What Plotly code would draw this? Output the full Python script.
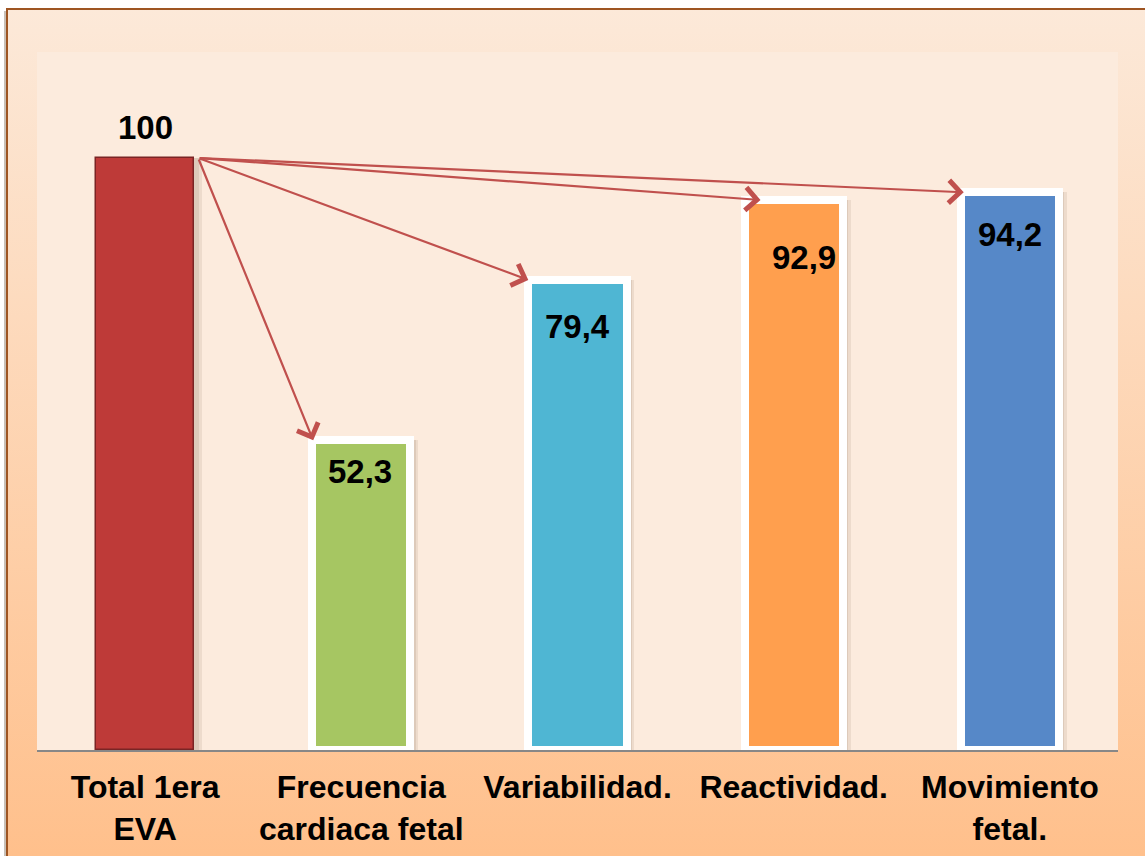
import base64
import plotly.graph_objects as go

# Data
categories = ["Total 1era<br>EVA", "Frecuencia<br>cardiaca fetal", "Variabilidad.",
              "Reactividad.", "Movimiento<br>fetal."]
values = [100, 52.3, 79.4, 92.9, 94.2]
value_labels = ["100", "52,3", "79,4", "92,9", "94,2"]

# Styling
bar_colors = ["#BE3A38", "#A6C662", "#4FB6D3", "#FF9F4E", "#5688C8"]
edge_colors = ["#7A2424", "white", "white", "white", "white"]
edge_widths = [1.5, 8, 8, 8, 8]
label_dx = [0, -0.007, 0, 0.046, 0]          # horizontal nudges (category units)
label_dy = [30, -31, -47, -57, -42]          # vertical offsets from bar top (px)
arrow_tip_dx = [0.005, 0.0, 0.074, 0.014]    # tips relative to each bar's left edge

W, H = 1145, 856
L, R, T, B = 37, 27, 52, 106
BAR_W = 0.455
x_pos = list(range(len(categories)))
FONT = "Arial, Liberation Sans"

# Background: peach gradient panel with brown frame and a light plot area
svg = f"""<svg xmlns='http://www.w3.org/2000/svg' width='{W}' height='{H}' viewBox='0 0 {W} {H}' preserveAspectRatio='none'>
<defs><linearGradient id='g' x1='0' y1='0' x2='0' y2='1'>
<stop offset='0' stop-color='#FCE9D9'/><stop offset='1' stop-color='#FFBF8A'/></linearGradient></defs>
<rect x='0' y='0' width='{W}' height='{H}' fill='white'/>
<rect x='4' y='11' width='{W}' height='{H}' fill='#C8C0B8'/>
<rect x='7' y='9' width='{W+10}' height='{H+10}' fill='url(#g)' stroke='#9E5522' stroke-width='2'/>
<rect x='{L}' y='{T}' width='{W-L-R}' height='{H-T-B}' fill='#FCEBDD'/>
</svg>"""
svg_uri = "data:image/svg+xml;base64," + base64.b64encode(svg.encode()).decode()

fig = go.Figure()

# soft drop shadow to the right of each bar (two translucent layers)
for off, alpha in [(0.036, 0.10), (0.024, 0.12)]:
    fig.add_trace(go.Bar(
        x=x_pos, y=values, width=BAR_W, offset=-BAR_W / 2 + off,
        marker=dict(color=f"rgba(110,80,60,{alpha})", line=dict(width=0)),
        hoverinfo="skip", showlegend=False,
    ))
fig.add_trace(go.Bar(
    x=x_pos, y=values, width=BAR_W,
    marker=dict(color=bar_colors, line=dict(color=edge_colors, width=edge_widths)),
    showlegend=False,
))

# value labels
for i, (v, t) in enumerate(zip(values, value_labels)):
    fig.add_annotation(
        x=x_pos[i] + label_dx[i], y=v, text=t, showarrow=False,
        yanchor="middle", yshift=label_dy[i],
        font=dict(family=FONT, size=33, color="black", weight="bold"),
    )

# arrows from the top of the first bar to the top of each other bar
tail_x = x_pos[0] + BAR_W / 2 + 0.018
tail_y = values[0]
for k, i in enumerate(range(1, len(values))):
    fig.add_annotation(
        x=x_pos[i] - BAR_W / 2 + arrow_tip_dx[k], y=values[i],
        ax=tail_x, ay=tail_y, axref="x", ayref="y", xref="x", yref="y",
        text="", showarrow=True, arrowhead=4, arrowsize=2.0, arrowwidth=2.2,
        arrowcolor="#C0504D", standoff=0,
    )

fig.add_layout_image(dict(
    source=svg_uri, xref="paper", yref="paper",
    x=-L / (W - L - R), y=1 + T / (H - T - B),
    sizex=W / (W - L - R), sizey=H / (H - T - B),
    xanchor="left", yanchor="top", sizing="stretch", layer="below",
))

fig.update_layout(
    width=W, height=H,
    margin=dict(l=L, r=R, t=T, b=B, autoexpand=False),
    paper_bgcolor="#FDDCC0", plot_bgcolor="#FCEBDD",
    barmode="overlay", bargap=0,
    xaxis=dict(
        range=[-0.5, 4.5], tickvals=x_pos, ticktext=categories,
        showline=True, linecolor="#878787", linewidth=2, showgrid=False,
        ticks="", zeroline=False, ticklabelstandoff=8, automargin=False,
        tickfont=dict(family=FONT, size=32, color="black", weight="bold"),
    ),
    yaxis=dict(range=[0, 117.9], visible=False, showgrid=False, zeroline=False,
               automargin=False),
)

fig.write_html("out.html")
